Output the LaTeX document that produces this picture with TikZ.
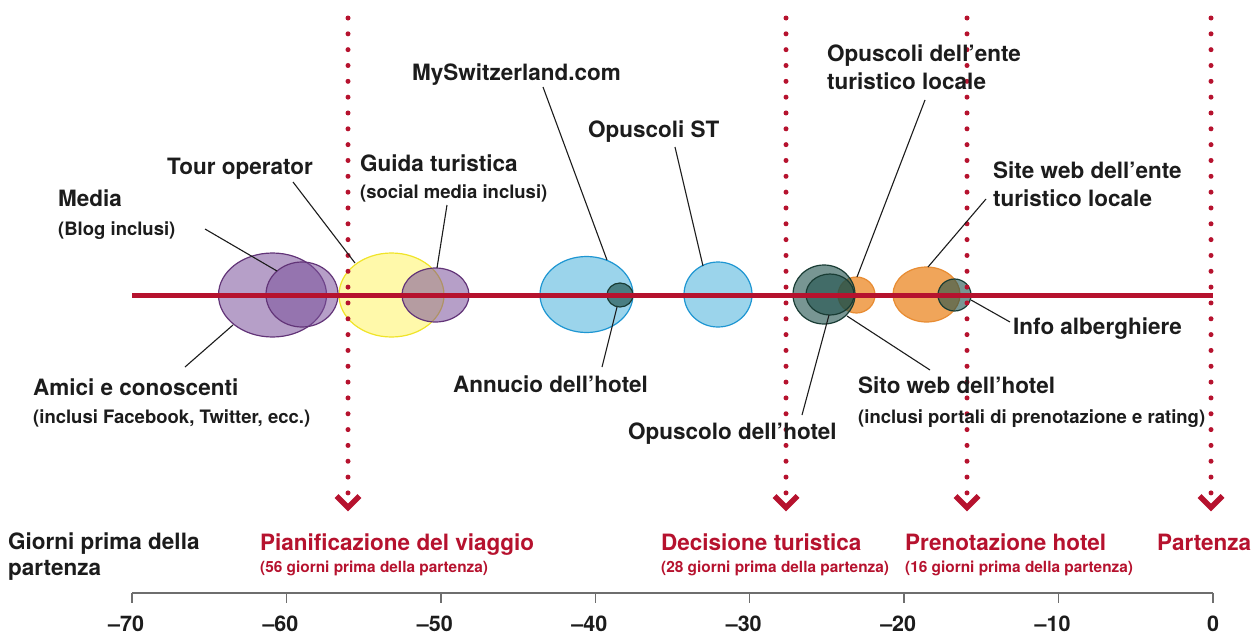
\documentclass[tikz,border=0pt]{standalone}
\usepackage{fontspec}
\setmainfont{TeX Gyre Heros}
\definecolor{swred}{RGB}{182,18,46}
\definecolor{txt}{RGB}{28,28,28}
\definecolor{purpF}{RGB}{122,81,154}
\definecolor{purpD}{RGB}{98,52,120}
\definecolor{yelF}{RGB}{255,249,170}
\definecolor{yelD}{RGB}{240,228,40}
\definecolor{bluF}{RGB}{155,212,235}
\definecolor{bluD}{RGB}{30,150,210}
\definecolor{teaF}{RGB}{30,80,75}
\definecolor{teaD}{RGB}{25,60,52}
\definecolor{oraF}{RGB}{240,165,90}
\definecolor{oraD}{RGB}{232,140,50}
\definecolor{axg}{RGB}{110,110,110}
\begin{document}
\begin{tikzpicture}[x=1pt,y=-1pt,
  lbl/.style={anchor=base west, inner sep=0pt, font=\fontsize{22.5}{25}\selectfont\bfseries, text=txt},
  sublbl/.style={anchor=base west, inner sep=0pt, font=\fontsize{18.5}{21}\selectfont\bfseries, text=txt},
  rlbl/.style={lbl, text=swred},
  rsub/.style={anchor=base west, inner sep=0pt, font=\fontsize{15.4}{17}\selectfont\bfseries, text=swred},
  ticklbl/.style={anchor=base, inner sep=0pt, font=\fontsize{21.5}{24}\selectfont\bfseries, text=txt},
  lead/.style={draw=txt, line width=1.1pt},
  purp/.style={fill=purpF, fill opacity=0.55, draw=purpD, draw opacity=1, line width=1.2pt},
  yel/.style={fill=yelF, draw=yelD, line width=1.2pt},
  blu/.style={fill=bluF, draw=bluD, line width=1.2pt},
  tea/.style={fill=teaF, fill opacity=0.6, draw=teaD, draw opacity=1, line width=1.2pt},
  ora/.style={fill=oraF, draw=oraD, line width=1.2pt},
  dotline/.style={draw=swred, line width=5pt, line cap=round, dash pattern=on 0pt off 15.83pt},
  chev/.style={draw=swred, line width=5.5pt, miter limit=10},
]
\useasboundingbox (0,0) rectangle (1259,635);

% ellipses
\draw[yel] (391.5,295) ellipse [x radius=52.5, y radius=42];
\draw[purp] (272.5,295) ellipse [x radius=54, y radius=42];
\draw[purp] (302,294.5) ellipse [x radius=36, y radius=32.5];
\draw[purp] (435.5,295) ellipse [x radius=33.5, y radius=27];
\draw[blu] (586.5,294.5) ellipse [x radius=46.5, y radius=38];
\draw[blu] (718,294.5) ellipse [x radius=34, y radius=32.5];
\draw[tea, fill opacity=0.65] (620,295) ellipse [x radius=13, y radius=12];
\draw[ora] (856.5,295) ellipse [x radius=18.5, y radius=18];
\draw[ora] (926.5,294.5) ellipse [x radius=33.5, y radius=27.5];
\draw[tea] (824,294.5) ellipse [x radius=31, y radius=29.5];
\draw[tea] (830,294.5) ellipse [x radius=24, y radius=20.5];
\draw[tea] (954.5,295) ellipse [x radius=16.5, y radius=16];

% main red timeline
\coordinate (tlA) at (132,295);
\coordinate (tlB) at (1213,295);
\draw[swred, line width=5pt] (tlA) -- (tlB);

% dotted milestone lines with chevrons
\foreach \xx/\nm in {348/pl, 786/de, 967/pr, 1211/pa}{
  \coordinate (\nm top) at (\xx,18);
  \coordinate (\nm bot) at (\xx,493.1);
  \draw[dotline] (\nm top) -- (\nm bot);
  \coordinate (\nm cl) at (\xx-11.5,496);
  \coordinate (\nm cv) at (\xx,507.5);
  \coordinate (\nm cr) at (\xx+11.5,496);
  \draw[chev] (\nm cl) -- (\nm cv) -- (\nm cr);
}

% labels
\node[lbl] (media) at (58,206) {Media};
\node[sublbl] (mediasub) at (58,235) {(Blog inclusi)};
\node[lbl] (tour) at (167,174) {Tour operator};
\node[lbl] (guida) at (360,171) {Guida turistica};
\node[sublbl] (guidasub) at (360,198) {(social media inclusi)};
\node[lbl] (mysw) at (412,80) {MySwitzerland.com};
\node[lbl] (opst) at (588,137) {Opuscoli ST};
\node[lbl] (opent1) at (827,61) {Opuscoli dell’ente};
\node[lbl] (opent2) at (827,89) {turistico locale};
\node[lbl] (siteent1) at (993,178) {Site web dell’ente};
\node[lbl] (siteent2) at (993,206) {turistico locale};
\node[lbl] (info) at (1013,334) {Info alberghiere};
\node[lbl] (amici) at (33,395) {Amici e conoscenti};
\node[sublbl] (amicisub) at (33,423) {(inclusi Facebook, Twitter, ecc.)};
\node[lbl] (annu) at (453,392) {Annucio dell’hotel};
\node[lbl] (opho) at (628,439) {Opuscolo dell’hotel};
\node[lbl] (sito) at (858,393) {Sito web dell’hotel};
\node[sublbl] (sitosub) at (858,423) {(inclusi portali di prenotazione e rating)};

% leader lines
\coordinate (mediaA) at (205,229);   \coordinate (mediaB) at (277,271);
\coordinate (amiciA) at (185,367);   \coordinate (amiciB) at (233,325);
\coordinate (tourA) at (293,182);    \coordinate (tourB) at (355,263);
\coordinate (guidaA) at (447,205);   \coordinate (guidaB) at (437,268);
\coordinate (myswA) at (543,87);     \coordinate (myswB) at (607,260);
\coordinate (opstA) at (675,147);    \coordinate (opstB) at (703,266);
\coordinate (annuA) at (602,367);    \coordinate (annuB) at (617,307);
\coordinate (opentA) at (925,100);   \coordinate (opentB) at (857,277);
\coordinate (siteA) at (986,199);    \coordinate (siteB) at (928,267);
\coordinate (infoA) at (1010,322);   \coordinate (infoB) at (971,300);
\coordinate (sitoA) at (930,370);    \coordinate (sitoB) at (847,316);
\coordinate (ophoA) at (802,415);    \coordinate (ophoB) at (829,315);
\foreach \n in {media,amici,tour,guida,mysw,opst,annu,opent,site,info,sito,opho}{
  \draw[lead] (\n A) -- (\n B);
}

% bottom milestone labels
\node[lbl] (giorni1) at (8,549) {Giorni prima della};
\node[lbl] (giorni2) at (8,575) {partenza};
\node[rlbl] (pian) at (260,550) {Pianificazione del viaggio};
\node[rsub] (piansub) at (260,572) {(56 giorni prima della partenza)};
\node[rlbl] (deci) at (661,550) {Decisione turistica};
\node[rsub] (decisub) at (661,572) {(28 giorni prima della partenza)};
\node[rlbl] (pren) at (905,550) {Prenotazione hotel};
\node[rsub] (prensub) at (905,572) {(16 giorni prima della partenza)};
\node[rlbl] (part) at (1157,550) {Partenza};

% axis
\coordinate (axA) at (132,593);
\coordinate (axB) at (1213,593);
\draw[axg, line width=1.4pt] (axA) -- (axB);
\foreach \v [count=\i from 0] in {70,60,50,40,30,20,10}{
  \coordinate (tk\i) at (132+\i*154.43,593);
  \coordinate (tkb\i) at (132+\i*154.43,603);
  \draw[axg, line width=1.4pt] (tk\i) -- (tkb\i);
  \node[ticklbl] (tl\i) at (132+\i*154.43,631) {\llap{–}\v};
}
\coordinate (tk7) at (1213,593);
\coordinate (tkb7) at (1213,603);
\draw[axg, line width=1.4pt] (tk7) -- (tkb7);
\node[ticklbl] (tl7) at (1213,631) {0};
\end{tikzpicture}
\end{document}
